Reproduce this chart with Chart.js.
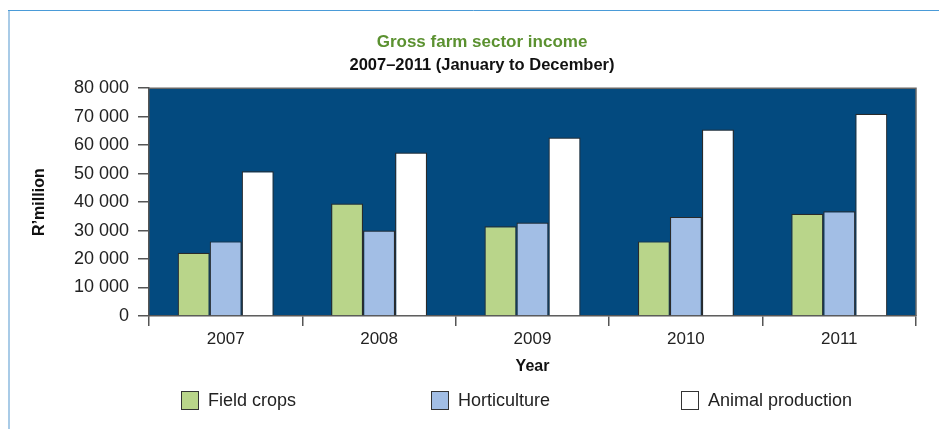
<!DOCTYPE html>
<html>
<head>
<meta charset="utf-8">
<title>Gross farm sector income</title>
<script src="https://cdn.jsdelivr.net/npm/chart.js@4"></script>
<style>
  body { margin: 0; background: #fff; }
  canvas { display: block; }
</style>
</head>
<body>
<canvas id="farmChart" width="939" height="429"></canvas>
<script>
// values (R'million)
const years = ["2007", "2008", "2009", "2010", "2011"];
const fieldCrops = [22200, 39500, 31500, 26200, 35900];
const horticulture = [26200, 30000, 32800, 34800, 36800];
const animalProduction = [50800, 57400, 62700, 65500, 71000];
const seriesNames = ["Field crops", "Horticulture", "Animal production"];
const yTicks = [0, 10000, 20000, 30000, 40000, 50000, 60000, 70000, 80000];

const fontFamily = "'Liberation Sans', Arial, sans-serif";

function spaced(v) {
    return String(v).replace(/\B(?=(\d{3})+(?!\d))/g, " ");
}

// dark plot background, grey frame round it, and the blue page border
const plotFrame = {
    id: "plotFrame",
    beforeDraw(chart) {
        const ctx = chart.ctx;
        const a = chart.chartArea;
        ctx.save();
        ctx.fillStyle = "#034a7f";
        ctx.fillRect(a.left, a.top, a.right - a.left, a.bottom - a.top);

        ctx.fillStyle = "#a9cbe7";
        ctx.fillRect(8, 10, 2, chart.height - 10);
        ctx.strokeStyle = "#4a9bd8";
        ctx.lineWidth = 1;
        ctx.beginPath();
        ctx.moveTo(8, 10.5);
        ctx.lineTo(chart.width, 10.5);
        ctx.stroke();
        ctx.restore();
    },
    afterDatasetsDraw(chart) {
        const ctx = chart.ctx;
        const a = chart.chartArea;
        ctx.save();
        ctx.strokeStyle = "#666";
        ctx.lineWidth = 1.5;
        ctx.beginPath();
        ctx.moveTo(a.left, a.top);
        ctx.lineTo(a.right, a.top);
        ctx.lineTo(a.right, a.bottom);
        ctx.stroke();
        ctx.restore();
    }
};

// legend in one row under the axis title
const bottomLegend = {
    id: "bottomLegend",
    afterDraw(chart) {
        const ctx = chart.ctx;
        const xs = [181, 431, 681];
        ctx.save();
        ctx.font = "18px " + fontFamily;
        ctx.textBaseline = "middle";
        chart.data.datasets.forEach(function (ds, i) {
            ctx.fillStyle = ds.backgroundColor;
            ctx.fillRect(xs[i], 391, 17, 18);
            ctx.strokeStyle = "#333";
            ctx.lineWidth = 1;
            ctx.strokeRect(xs[i] + 0.5, 391.5, 17, 18);
            ctx.fillStyle = "#222";
            ctx.fillText(ds.label, xs[i] + 27, 401);
        });
        ctx.restore();
    }
};

new Chart(document.getElementById("farmChart"), {
    type: "bar",
    data: {
        labels: years,
        datasets: [
            { label: seriesNames[0], data: fieldCrops, backgroundColor: "#b9d58a" },
            { label: seriesNames[1], data: horticulture, backgroundColor: "#a2bee5" },
            { label: seriesNames[2], data: animalProduction, backgroundColor: "#ffffff" }
        ]
    },
    options: {
        responsive: false,
        animation: false,
        layout: { padding: { left: 48, right: 23, top: 0, bottom: 0 } },
        datasets: {
            bar: {
                categoryPercentage: 0.626,
                barPercentage: 1,
                borderColor: "#2a2a2a",
                borderWidth: 1.2
            }
        },
        plugins: {
            legend: { display: false },
            tooltip: { enabled: false },
            title: {
                display: true,
                text: "Gross farm sector income",
                color: "#5b9130",
                font: { family: fontFamily, size: 17, weight: "bold" },
                padding: { top: 32, bottom: 0 }
            },
            subtitle: {
                display: true,
                text: "2007\u20132011 (January to December)",
                color: "#111",
                font: { family: fontFamily, size: 16.5, weight: "bold" },
                padding: { top: 3, bottom: 13 }
            }
        },
        scales: {
            x: {
                afterFit(scale) { scale.height = 113; },
                grid: {
                    display: true,
                    offset: true,
                    drawOnChartArea: false,
                    drawTicks: true,
                    tickLength: 10,
                    color: "#555",
                    lineWidth: 1.5
                },
                border: { display: true, color: "#555", width: 1.5 },
                ticks: {
                    color: "#222",
                    padding: 3,
                    font: { family: fontFamily, size: 17 }
                },
                title: {
                    display: true,
                    text: "Year",
                    color: "#111",
                    font: { family: fontFamily, size: 16, weight: "bold" },
                    padding: { top: 0, bottom: 53 }
                }
            },
            y: {
                min: 0,
                max: 80000,
                afterFit(scale) { scale.width = 101; },
                afterBuildTicks(scale) {
                    scale.ticks = yTicks.map(function (v) { return { value: v }; });
                },
                grid: {
                    display: true,
                    drawOnChartArea: false,
                    drawTicks: true,
                    tickLength: 11,
                    color: "#555",
                    lineWidth: 1.5
                },
                border: { display: true, color: "#555", width: 1.5 },
                ticks: {
                    color: "#222",
                    padding: 9,
                    font: { family: fontFamily, size: 18 },
                    callback: function (v) { return spaced(v); }
                },
                title: {
                    display: true,
                    text: "R\u2019million",
                    color: "#111",
                    font: { family: fontFamily, size: 16, weight: "bold" },
                    padding: { top: -17.6, bottom: 0 }
                }
            }
        }
    },
    plugins: [plotFrame, bottomLegend]
});
</script>
</body>
</html>
